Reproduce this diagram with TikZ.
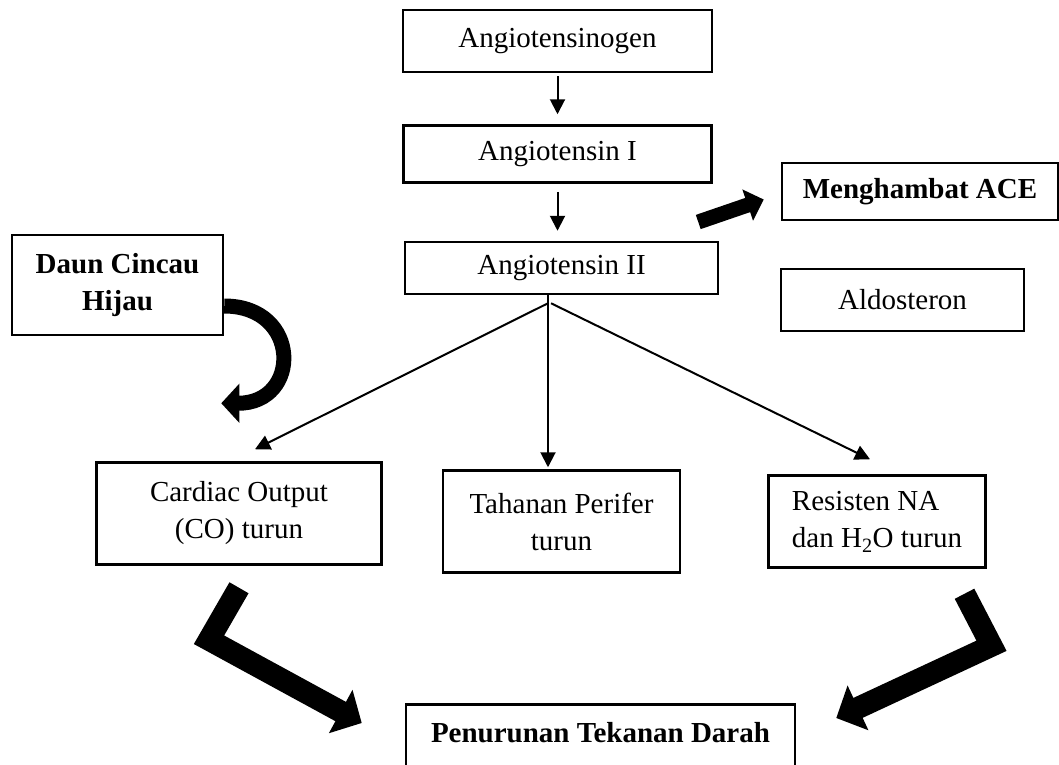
\documentclass[tikz,border=0pt]{standalone}
\usepackage{fontspec}
\setmainfont{Liberation Serif}
\usetikzlibrary{arrows.meta, positioning, calc}

\begin{document}
\begin{tikzpicture}[x=1pt, y=-1pt, >={Triangle[width=15pt,length=15pt]}]
  % Styles
  \tikzset{box/.style={draw=black, line width=2.5pt, inner sep=0pt, align=center, font=\fontsize{29}{37}\selectfont}}
  \tikzset{boldbox/.style={box, font=\fontsize{29}{37}\selectfont\bfseries}}
  \tikzstyle{link}=[->, line width=2pt]
  \tikzstyle{fatarrow}=[line width=22pt, line join=miter, -{Triangle[width=48pt,length=24pt]}]

  \useasboundingbox (0,0) rectangle (1059,764);

  % --- Boxes ---
  \node[box, minimum width=309pt, minimum height=62pt] (Angiotensinogen) at (557.5,41) {Angiotensinogen};
  \node[box, minimum width=308pt, minimum height=57pt] (AngiotensinI) [below=51pt of Angiotensinogen] {Angiotensin I};
  \node[box, minimum width=313pt, minimum height=52pt] (AngiotensinII) [below=57pt of AngiotensinI, xshift=4pt] {Angiotensin II};

  \node[boldbox, minimum width=276pt, minimum height=57pt] (Menghambat) at (920,191.5) {Menghambat ACE};
  \node[box, minimum width=243pt, minimum height=62pt] (Aldosteron) at (902.5,300) {Aldosteron};
  \node[boldbox, minimum width=211pt, minimum height=100pt] (DaunCincau) at (117.5,285) {Daun Cincau\\Hijau};

  % Effects
  \node[box, minimum width=237pt, minimum height=102pt] (Tahanan) [below=174pt of AngiotensinII] {Tahanan Perifer\\turun};
  \node[box, minimum width=285pt, minimum height=102pt] (CardiacOutput) [left=59pt of Tahanan, yshift=8pt] {Cardiac Output\\(CO) turun};
  \node[box, minimum width=217pt, minimum height=92pt, align=left] (Resisten) [right=86pt of Tahanan] {Resisten NA\\dan H\textsubscript{2}O turun};

  % Result
  \node[boldbox, anchor=north, minimum width=389pt, text height=38pt, text depth=40pt] (Penurunan) at (600.5,703) {Penurunan Tekanan Darah};

  % --- Arrows ---
  \draw[link, shorten <=3pt, shorten >=10pt] (Angiotensinogen.south) -- (Angiotensinogen.south |- AngiotensinI.north);
  \draw[link, shorten <=8pt, shorten >=10pt] (AngiotensinI.south) -- (AngiotensinI.south |- AngiotensinII.north);

  % Angiotensin II splits in three
  \coordinate (Hub) at ([xshift=-13.5pt]AngiotensinII.south);
  \draw[link, shorten >=2pt] (Hub) -- (Hub |- Tahanan.north);
  \draw[link] ([yshift=-8pt]Hub) -- ([xshift=16pt,yshift=12pt]CardiacOutput.north);
  \draw[link] ([xshift=3pt,yshift=-8pt]Hub) -- ([xshift=-7pt,yshift=15pt]Resisten.north);

  % Thick arrows
  \draw[line width=15pt, -{Triangle[width=32pt,length=17pt]}] ([xshift=-21pt,yshift=46pt]AngiotensinII.east) -- ([xshift=-17pt,yshift=-8pt]Menghambat.west);
  \draw[line width=15pt, -{Triangle[width=38pt,length=18pt]}] ([yshift=-21pt]DaunCincau.east) .. controls +(77,0) and +(80,0) .. ([xshift=-3pt,yshift=-67pt]DaunCincau.south east);

  \draw[fatarrow] ([yshift=-22pt]CardiacOutput.south) -- ++(-30,52) -- ([xshift=-43pt,yshift=-20pt]Penurunan.north west);
  \draw[fatarrow] ([xshift=87.5pt,yshift=-25pt]Resisten.south) -- ++(27,52) -- ([xshift=40pt,yshift=-15pt]Penurunan.north east);

\end{tikzpicture}
\end{document}
